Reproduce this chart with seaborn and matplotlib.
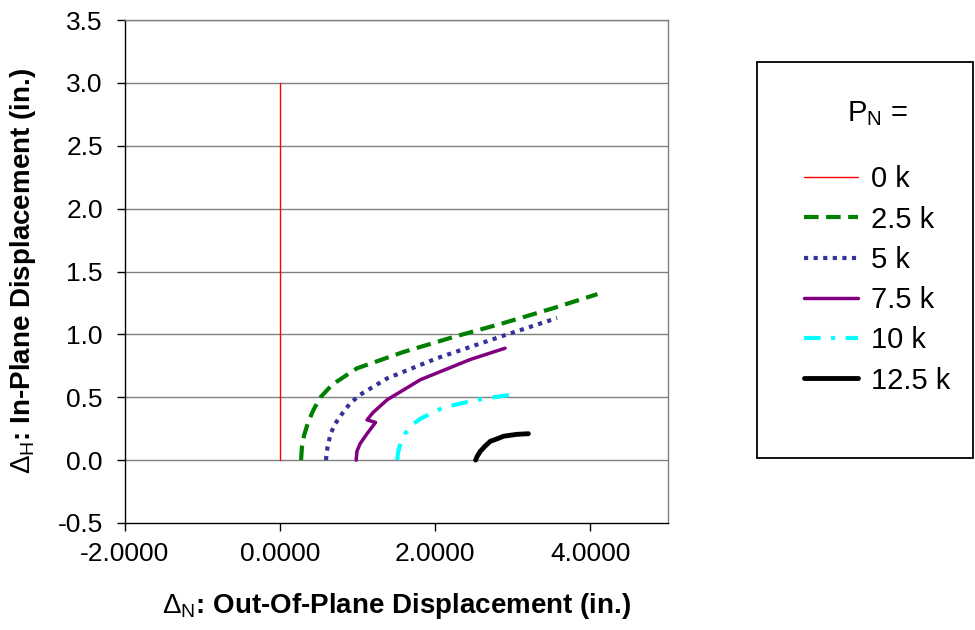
import matplotlib
matplotlib.use("Agg")
import matplotlib.pyplot as plt
import seaborn as sns
import pandas as pd
from matplotlib.patches import Rectangle
from matplotlib.ticker import FormatStrFormatter, MultipleLocator

labels = ["0 k", "2.5 k", "5 k", "7.5 k", "10 k", "12.5 k"]

x_0 = [0.0, 0.0]
y_0 = [0.0, 3.0]

x_25 = [0.27, 0.28, 0.31, 0.36, 0.43, 0.52, 0.67, 0.99, 1.59, 2.24, 2.88, 3.53, 4.09]
y_25 = [0.0, 0.10, 0.20, 0.30, 0.40, 0.50, 0.60, 0.73, 0.86, 0.98, 1.09, 1.21, 1.32]

x_5 = [0.59, 0.61, 0.65, 0.71, 0.80, 0.90, 1.03, 1.38, 2.02, 2.88, 3.57]
y_5 = [0.0, 0.10, 0.21, 0.29, 0.37, 0.45, 0.52, 0.65, 0.81, 0.99, 1.13]

x_75 = [0.98, 0.99, 1.03, 1.12, 1.23, 1.12, 1.20, 1.38, 1.81, 2.45, 2.90]
y_75 = [0.0, 0.07, 0.13, 0.21, 0.30, 0.32, 0.38, 0.48, 0.64, 0.80, 0.89]

x_10 = [1.51, 1.52, 1.55, 1.61, 1.70, 1.81, 2.11, 2.54, 3.08]
y_10 = [0.0, 0.06, 0.13, 0.21, 0.28, 0.33, 0.42, 0.48, 0.53]

x_125 = [2.52, 2.54, 2.58, 2.64, 2.71, 2.80, 2.88, 3.05, 3.20]
y_125 = [0.0, 0.03, 0.07, 0.11, 0.15, 0.17, 0.19, 0.205, 0.21]

series_x = [x_0, x_25, x_5, x_75, x_10, x_125]
series_y = [y_0, y_25, y_5, y_75, y_10, y_125]

colors = ["#ff0000", "#008000", "#333399", "#800080", "#00ffff", "#000000"]
widths = [1.0, 3.0, 3.0, 2.5, 3.0, 3.5]
dashes = [None, (3.5, 1.8), (1, 1.3), None, (4, 2.5, 1, 2.5), None]

sns.set_theme(style="white")
plt.rcParams["font.family"] = ["Liberation Sans", "DejaVu Sans"]
plt.rcParams["mathtext.fontset"] = "custom"
plt.rcParams["mathtext.rm"] = "Liberation Sans"
plt.rcParams["mathtext.bf"] = "Liberation Sans:bold"
plt.rcParams["text.color"] = "black"
plt.rcParams["axes.labelcolor"] = "black"

W, H = 975, 630
fig = plt.figure(figsize=(9.75, 6.3), dpi=100)
ax = fig.add_axes([125 / W, 1 - 523 / H, 543 / W, 503 / H])

for yv in [0.0, 0.5, 1.0, 1.5, 2.0, 2.5, 3.0, 3.5]:
    ax.axhline(yv, color="#808080", lw=1.0, zorder=0)

handles = []
for i in range(len(labels)):
    df = pd.DataFrame({"x": series_x[i], "y": series_y[i]})
    sns.lineplot(data=df, x="x", y="y", sort=False, estimator=None, ax=ax,
                 color=colors[i], lw=widths[i], label=labels[i], zorder=3)
    line = ax.get_lines()[-1]
    if dashes[i] is not None:
        line.set_dashes(dashes[i])
        line.set_dash_capstyle("butt")
    handles.append(line)

ax.set_xlim(-2, 5)
ax.set_ylim(-0.5, 3.5)
ax.set_xticks([-2, 0, 2, 4])
ax.yaxis.set_major_locator(MultipleLocator(0.5))
ax.xaxis.set_major_formatter(FormatStrFormatter("%.4f"))
ax.yaxis.set_major_formatter(FormatStrFormatter("%.1f"))
ax.tick_params(axis="both", direction="out", length=6, width=1, color="black",
               labelsize=19, labelcolor="black", bottom=True, left=True)
ax.tick_params(axis="x", pad=8)
ax.tick_params(axis="y", pad=10)

for s in ["top", "right"]:
    ax.spines[s].set_color("#808080")
    ax.spines[s].set_linewidth(1.0)
for s in ["left", "bottom"]:
    ax.spines[s].set_color("black")
    ax.spines[s].set_linewidth(1.0)

ax.set_xlabel(r"$\Delta_{\rm N}$: Out-Of-Plane Displacement (in.)",
              fontsize=20, fontweight="bold", labelpad=18)
ax.set_ylabel(r"$\Delta_{\rm H}$: In-Plane Displacement (in.)",
              fontsize=20, fontweight="bold", labelpad=14)
ax.get_legend().remove()

# legend frame
fig.patches.append(Rectangle((757 / W, 1 - 458 / H), 216 / W, 396 / H,
                             transform=fig.transFigure, fill=False,
                             edgecolor="black", lw=1.3, zorder=5))

leg = fig.legend(handles=handles, labels=labels, title="P$_{\\rm N}$ =",
                 loc="upper left", bbox_to_anchor=(804 / W, 1 - 99 / H),
                 fontsize=21, title_fontsize=21, frameon=False,
                 handlelength=1.85, handletextpad=0.45,
                 labelspacing=0.42, borderpad=0, borderaxespad=0)
leg._legend_box.sep = 27
leg._legend_box.align = "center"

fig.savefig("out.png", dpi=100)
